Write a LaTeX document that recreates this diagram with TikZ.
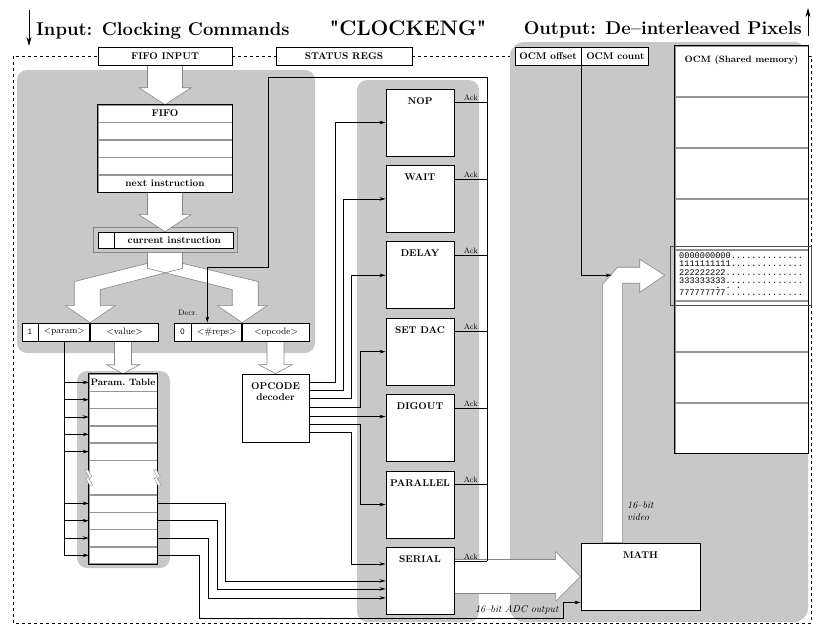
\documentclass[tikz,border=0pt]{standalone}
\usepackage{fontspec}
\usetikzlibrary{positioning,calc,arrows.meta,backgrounds}
\newfontfamily\memfont{Liberation Mono}

\definecolor{panel}{RGB}{200,200,200}
\definecolor{arrowgray}{RGB}{135,135,135}
\definecolor{rowgray}{RGB}{150,150,150}

% wide white arrows (from, to, shaft half width, head half width, head length)
\newcommand{\hollowdown}[5]{%
  \draw[hollow] let \p1=(#1), \p2=(#2) in
    (\x2-#3pt,\y1) -- (\x2-#3pt,\y2+#5pt) -- (\x2-#4pt,\y2+#5pt) -- (\x2,\y2)
    -- (\x2+#4pt,\y2+#5pt) -- (\x2+#3pt,\y2+#5pt) -- (\x2+#3pt,\y1) -- cycle;}
\newcommand{\hollowright}[5]{%
  \draw[hollow] let \p1=(#1), \p2=(#2) in
    (\x1,\y2+#3pt) -- (\x2-#5pt,\y2+#3pt) -- (\x2-#5pt,\y2+#4pt) -- (\x2,\y2)
    -- (\x2-#5pt,\y2-#4pt) -- (\x2-#5pt,\y2-#3pt) -- (\x1,\y2-#3pt) -- cycle;}
% one branch of the split below the current instruction
\newcommand{\forkbranch}[3]{%
  \path[#1] let \p1=(curout.south), \p2=(#2), \n1={#3} in
    ({\x1-\n1*17.5pt},\y1) -- ({\x1+\n1*17.5pt},\y1) -- ({\x1+\n1*17.5pt},\y1-16pt)
    -- ({\x2+\n1*10pt},\y2+33pt) -- ({\x2+\n1*10pt},\y2+17pt) -- ({\x2+\n1*25pt},\y2+17pt)
    -- (\x2,\y2) -- ({\x2-\n1*25pt},\y2+17pt) -- ({\x2-\n1*16pt},\y2+17pt)
    -- ({\x2-\n1*16pt},\y2+41pt) -- ({\x1-\n1*17.5pt},\y1-11pt) -- cycle;}

\tikzset{
  box/.style={draw, fill=white, line width=0.9pt, inner sep=1pt},
  lbl/.style={font=\fontsize{9.8}{11}\selectfont\bfseries},
  headline/.style={font=\fontsize{18.5}{22}\selectfont\bfseries, inner sep=0pt},
  tabrow/.style={draw=rowgray, fill=white, line width=0.5pt, inner sep=0pt, minimum width=#1, minimum height=17pt},
  memrow/.style={draw=rowgray, fill=white, line width=0.5pt, minimum width=133pt, minimum height=50.5pt},
  cell/.style={draw, fill=white, line width=0.8pt, inner sep=0pt, minimum height=18pt, font=\fontsize{9.2}{10.5}\selectfont},
  flag/.style={cell, font=\ttfamily\fontsize{9}{10}\selectfont},
  boxtitle/.style={lbl, anchor=north, inner xsep=2pt, inner ysep=8.5pt, align=center},
  titled/.style={label={[boxtitle]north:#1}},
  stagebox/.style={box, minimum width=68pt, minimum height=67pt},
  wire/.style={line width=0.7pt},
  sig/.style={-{Stealth[length=6pt,width=3.5pt]}},
  hollow/.style={draw=arrowgray, fill=white, line width=0.6pt},
  ack/.style={font=\fontsize{7.8}{9}\selectfont, inner sep=1.5pt},
  note/.style={font=\fontsize{10}{11.5}\selectfont\itshape, inner sep=0pt},
  memtext/.style={font=\memfont\fontsize{8.6}{8.6}\selectfont, inner sep=0pt, align=left},
}

\begin{document}
\begin{tikzpicture}[x=1pt,y=-1pt]
  \useasboundingbox (0,0) rectangle (813,627);

  % headings
  \node[headline, anchor=base west] (intitle) at (36,35) {Input: Clocking Commands};
  \node[headline, font=\fontsize{21}{24}\selectfont\bfseries, anchor=base] (nametitle) at (408,35) {\textquotedbl CLOCKENG\textquotedbl};
  \node[headline, anchor=base east] (outtitle) at (802,34) {Output: De--interleaved Pixels};
  \draw[line width=0.8pt, -{Stealth[length=9pt,width=5pt]}] (29,10) -- (29,46);
  \draw[line width=0.8pt, -{Stealth[length=9pt,width=5pt]}] (808,36) -- (808,8);

  % registers on the frame
  \node[box, lbl, minimum width=134pt, minimum height=18pt] (fifoin) at (165,56) {FIFO INPUT};
  \node[box, lbl, minimum width=136pt, minimum height=18pt] (status) at (344,56) {STATUS REGS};
  \node[box, lbl, minimum width=66pt, minimum height=18pt] (ocmoff) at (548,56) {OCM offset};
  \node[box, lbl, minimum width=67pt, minimum height=18pt, right=0pt of ocmoff] (ocmcnt) {OCM count};

  % FIFO
  \node[tabrow=134pt, lbl] (f1) at (165,113.5) {FIFO};
  \node[tabrow=134pt, below=0pt of f1] (f2) {};
  \node[tabrow=134pt, below=0pt of f2] (f3) {};
  \node[tabrow=134pt, below=0pt of f3] (f4) {};
  \node[tabrow=134pt, lbl, below=0pt of f4] (f5) {next instruction};
  \draw[line width=0.9pt] (f1.north west) rectangle (f5.south east);

  % current instruction
  \node[cell, minimum width=16pt, minimum height=16pt] (curflag) at (106,240) {};
  \node[cell, lbl, minimum width=119pt, minimum height=16pt, right=0pt of curflag] (cur) {current instruction};

  % instruction fields
  \node[flag, minimum width=16pt] (pone) at (30,332) {1};
  \node[cell, minimum width=51pt, right=0pt of pone] (pparam) {<param>};
  \node[cell, minimum width=68pt, right=0pt of pparam] (pvalue) {<value>};
  \node[flag, minimum width=17pt] (rzero) at (182.5,332) {0};
  \node[cell, minimum width=50pt, right=0pt of rzero] (rreps) {<\#reps>};
  \node[cell, minimum width=67pt, right=0pt of rreps] (ropcode) {<opcode>};
  \node[ack] (decr) at (188,313) {Decr.};

  % parameter table
  \node[tabrow=68pt, minimum height=16.8pt, lbl, font=\fontsize{9.3}{10}\selectfont\bfseries] (pt0) at (123,382.4) {Param.~Table};
  \node[tabrow=68pt, minimum height=16.8pt, below=0pt of pt0] (pt1) {};
  \node[tabrow=68pt, minimum height=16.8pt, below=0pt of pt1] (pt2) {};
  \node[tabrow=68pt, minimum height=16.8pt, below=0pt of pt2] (pt3) {};
  \node[tabrow=68pt, minimum height=16.8pt, below=0pt of pt3] (pt4) {};
  \node[tabrow=68pt, minimum height=34pt, below=0pt of pt4] (ptgap) {};
  \node[tabrow=68pt, minimum height=16.8pt, below=0pt of ptgap] (pt5) {};
  \node[tabrow=68pt, minimum height=16.8pt, below=0pt of pt5] (pt6) {};
  \node[tabrow=68pt, minimum height=16.8pt, below=0pt of pt6] (pt7) {};
  \node[tabrow=68pt, minimum height=16.8pt, below=0pt of pt7] (pt8) {};
  \draw[line width=0.9pt] (pt0.north west) rectangle (pt8.south east);
  \foreach \side in {west,east}
    \draw[draw=arrowgray, fill=white, line width=0.4pt] (ptgap.\side) +(-1,-8) -- +(3,-1) -- +(0,1)
      -- +(4,8) -- +(1,8) -- +(-3,1) -- +(0,-1) -- +(-4,-8) -- cycle;

  % decoder
  \node[box, minimum width=67pt, minimum height=68pt, titled=OPCODE\\decoder] (dec) at (275.5,408) {};

  % clocking units
  \node[stagebox, titled=NOP] (nop) at (420,122.5) {};
  \node[stagebox, titled=WAIT, below=8.5pt of nop] (wait) {};
  \node[stagebox, titled=DELAY, below=8.5pt of wait] (delay) {};
  \node[stagebox, titled=SET DAC, below=8.5pt of delay] (setdac) {};
  \node[stagebox, titled=DIGOUT, below=8.5pt of setdac] (digout) {};
  \node[stagebox, titled=PARALLEL, below=8.5pt of digout] (parallel) {};
  \node[stagebox, titled=SERIAL, below=8.5pt of parallel] (serial) {};

  % shared memory
  \node[memrow] (m1) at (741.5,71.25) {};
  \node[memrow, below=0pt of m1] (m2) {};
  \node[memrow, below=0pt of m2] (m3) {};
  \node[memrow, below=0pt of m3] (m4) {};
  \node[memrow, below=0pt of m4] (m5) {};
  \node[memrow, below=0pt of m5] (m6) {};
  \node[memrow, below=0pt of m6] (m7) {};
  \node[memrow, below=0pt of m7] (m8) {};
  \draw[line width=0.9pt] (m1.north west) rectangle (m8.south east);
  \node[lbl, font=\fontsize{9.2}{10}\selectfont\bfseries] (ocmtitle) at ($(m1.north)+(0,14)$) {OCM (Shared memory)};
  \draw[draw=black!70, line width=0.7pt] ($(m5.north west)+(-4,-3)$) rectangle ($(m5.south east)+(3,5)$);
  \node[memtext, anchor=north west] (mdata) at (679,252.2) {%
    0000000000..............\\
    1111111111..............\\
    222222222...............\\
    333333333...............\\[-3.6pt]
    \hphantom{0000000}.\hphantom{0}.\hphantom{0}.\\[-2.1pt]
    777777777...............};

  % math unit
  \node[box, minimum width=119pt, minimum height=67pt, titled=MATH] (math) at (640.5,576.5) {};
  \node[note, anchor=west, align=left] (vidlbl) at (627,511) {16--bit\\video};

  % decoder outputs
  \foreach \dy [count=\i] in {9,17,25,34,43,51,59}
    \coordinate (d\i) at ($(dec.north east)+(0,\dy)$);
  \draw[wire,sig] (d1) -| ($(nop.west)+(-50,0)$) -- (nop.west);
  \draw[wire,sig] (d2) -| ($(wait.west)+(-42,0)$) -- (wait.west);
  \draw[wire,sig] (d3) -| ($(delay.west)+(-34,0)$) -- (delay.west);
  \draw[wire,sig] (d4) -| ($(setdac.west)+(-25,0)$) -- (setdac.west);
  \draw[wire,sig] (d5) -- (d5 -| digout.west);
  \draw[wire,sig] (d6) -| ($(parallel.west)+(-25,0)$) -- (parallel.west);
  \draw[wire,sig] (d7) -| ($(serial.north west)+(-34,17)$) -- ($(serial.north west)+(0,17)$);

  % acknowledge bus back to the repeat counter
  \coordinate (bus) at (487,77);
  \foreach \s in {nop,wait,delay,setdac,digout,parallel,serial}
    \draw[wire] ($(\s.north east)+(0,14)$) coordinate (ack\s) -- (ack\s -| bus)
      node[ack, midway, above] (ackl\s) {Ack};
  \coordinate (decrin) at ($(rreps.north)+(-9.5,0)$);
  \draw[wire,sig] (ackserial -| bus) -- (bus) -- ++(-219,0) |- ($(decrin)+(0,-55)$) -- (decrin);

  % parameter select lines
  \draw[wire] (pparam.south) -- (pparam.south |- pt8.west);
  \foreach \r in {pt0,pt1,pt2,pt3,pt4,pt5,pt6,pt7,pt8}
    \draw[wire,sig] (pparam.south |- \r.west) -- (\r.west);

  % parameters to the serial unit and math
  \draw[wire,sig] (pt5.east) -- ++(68,0) |- (serial.west);
  \draw[wire,sig] (pt6.east) -- ++(60,0) |- ($(serial.west)+(0,8)$);
  \draw[wire,sig] (pt7.east) -- ++(51,0) |- ($(serial.west)+(0,17)$);
  \coordinate (adcin) at ($(math.south west)+(0,-8)$);
  \draw[wire,sig] (pt8.east) -- ++(42,0) |- ($(adcin)+(-17,16)$) |- (adcin);
  \node[note, anchor=south east] (adclbl) at ($(adcin)+(-22,12)$) {16--bit ADC output};

  % OCM offset into the write path
  \draw[wire,sig] (ocmoff.south east) |- ($(m5.west)+(-63,0)$);

  \begin{scope}[on background layer]
    \draw[dashed, line width=0.6pt] (13,56) rectangle (811,623);
    \fill[panel, rounded corners=10pt] (17,70) rectangle (315,353);
    \fill[panel, rounded corners=10pt] (77,371) rectangle (170,568);
    \fill[panel, rounded corners=10pt] (357,80) rectangle (479,622);
    \fill[panel, rounded corners=14pt] (510,42) rectangle (808,622);
    \node[draw=arrowgray, fill=panel, line width=0.7pt, minimum width=144pt, minimum height=25pt] (curout) at (165,239.5) {};

    \hollowdown{fifoin.south}{f1.north}{17.5}{26}{17}
    \hollowdown{f5.south}{$(curout.north)+(0,5)$}{17.5}{26}{17}
    \hollowdown{pvalue.south}{pt0.north}{8.5}{16.5}{9}
    \hollowdown{ropcode.south}{dec.north}{8.5}{17}{9}
    \forkbranch{fill=white}{pvalue.north west}{1}
    \forkbranch{fill=white}{ropcode.north west}{-1}
    \forkbranch{draw=arrowgray, line width=0.6pt}{pvalue.north west}{1}
    \forkbranch{draw=arrowgray, line width=0.6pt}{ropcode.north west}{-1}
    \hollowright{serial.east}{math.west}{17}{25}{25}
    \draw[hollow] let \p1=(math.north west), \p2=(m5.west) in
      (\x1+22pt,\y1) -- (\x1+22pt,\y2-9pt) -- (\x1+37pt,\y2+8pt) -- (\x2-35pt,\y2+8pt)
      -- (\x2-35pt,\y2+16pt) -- (\x2-10pt,\y2) -- (\x2-35pt,\y2-17pt) -- (\x2-35pt,\y2-8pt)
      -- (\x1+42pt,\y2-8pt) -- (\x1+42pt,\y1) -- cycle;
  \end{scope}
\end{tikzpicture}
\end{document}
